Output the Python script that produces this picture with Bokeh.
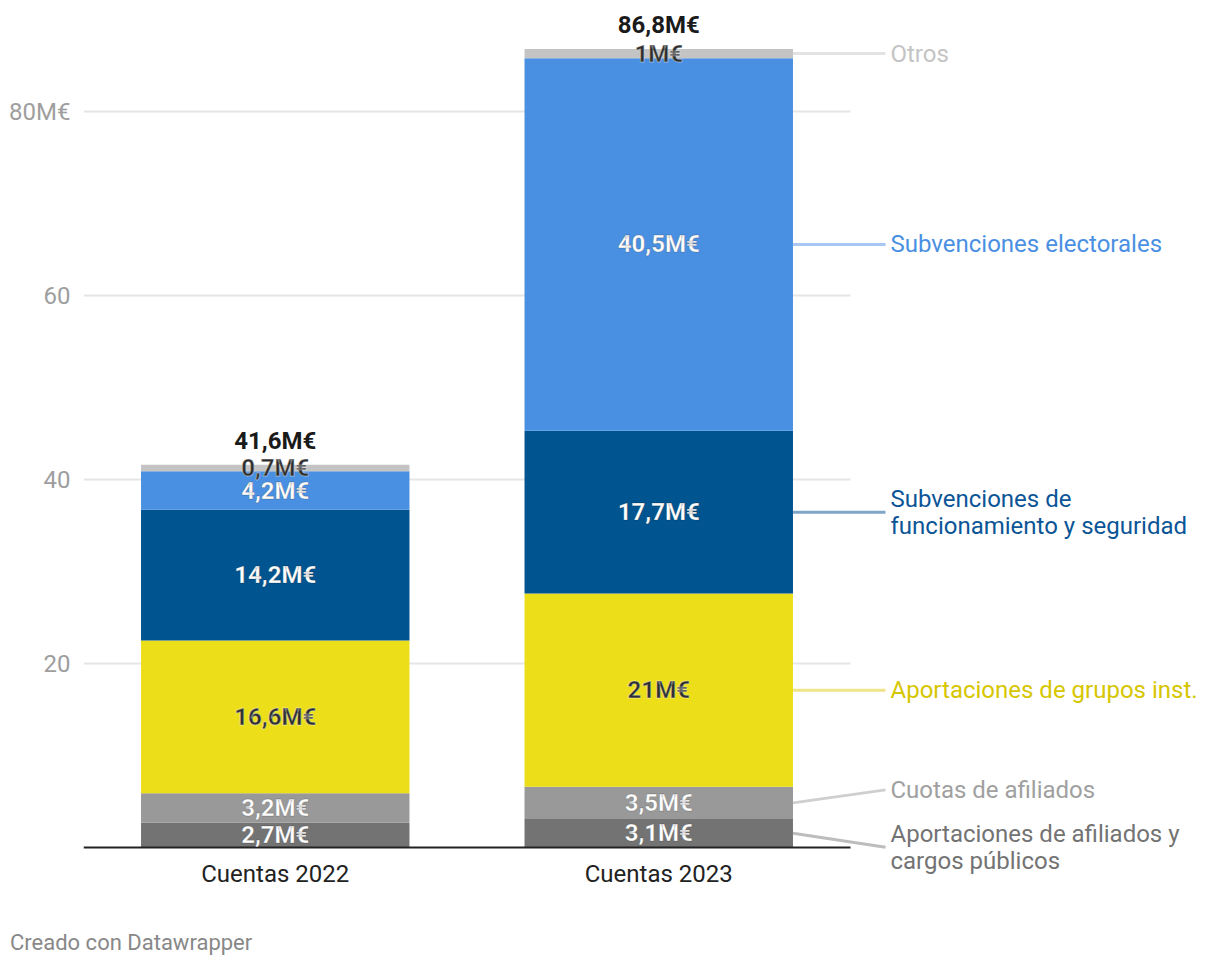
from bokeh.plotting import figure
from bokeh.layouts import column
from bokeh.models import Range1d, FixedTicker, Div
from bokeh.core.properties import value
from bokeh.embed import file_html
from bokeh.resources import INLINE

# ---- data ----
categories = ["Cuentas 2022", "Cuentas 2023"]
series = ["Aportaciones de afiliados y\ncargos públicos", "Cuotas de afiliados",
          "Aportaciones de grupos inst.", "Subvenciones de\nfuncionamiento y seguridad",
          "Subvenciones electorales", "Otros"]
values_2022 = [2.7, 3.2, 16.6, 14.2, 4.2, 0.7]
values_2023 = [3.1, 3.5, 21.0, 17.7, 40.5, 1.0]
totals = [41.6, 86.8]
y_ticks = [20, 40, 60, 80]
y_tick_labels = ["20", "40", "60", "80M€"]
footer_text = "Creado con Datawrapper"

# ---- style ----
bar_colors = ["#737373", "#999999", "#ecdf1a", "#00548f", "#4a90e2", "#c4c4c4"]
inside_text = ["white", "white", "#2d2d2d", "white", "white", "#2d2d2d"]
inside_halo = ["rgba(0,0,0,0.2)", "rgba(0,0,0,0.2)", "rgba(255,255,255,0.4)",
               "rgba(0,0,0,0.2)", "rgba(0,0,0,0.2)", "rgba(255,255,255,0.4)"]
legend_text = ["#737373", "#a0a0a0", "#d6c600", "#0b5597", "#4a90e2", "#c4c4c4"]
conn_colors = ["#bdbdbd", "#cfcfcf", "#eee58a", "#7fa6c8", "#a6c8f2", "#e3e3e3"]
label_offset_px = [-14, 13, 0, 0, 0, 0]  # upward shift of the right labels (px)
FONT = "Roboto"
FS = "24px"

PX_Y = 9.2      # px per unit on y
PX_X = 383.5    # px per unit on x
BAR_W = 0.70

W, H = 1212, 905
frame_left = 83
zero_px = 847          # canvas y of value 0
frame_bottom = 880     # canvas y of frame bottom
frame_w = W - frame_left
x_end = frame_w / PX_X
y_start = -(frame_bottom - zero_px) / PX_Y
y_end = zero_px / PX_Y

p = figure(width=W, height=H, output_backend="svg", toolbar_location=None,
           x_range=Range1d(0, x_end), y_range=Range1d(y_start, y_end),
           min_border_left=frame_left, min_border_right=0, min_border_top=0,
           min_border_bottom=H - frame_bottom)
p.outline_line_color = None
p.xgrid.visible = False
p.ygrid.visible = False
p.background_fill_color = "white"

xs = [0.5, 1.5]

# gridlines limited to chart area
p.segment(x0=[0] * len(y_ticks), x1=[2] * len(y_ticks), y0=y_ticks, y1=y_ticks,
          line_color="#e6e6e6", line_width=2)

# stacked bars
all_vals = [values_2022, values_2023]
for ci, vals in enumerate(all_vals):
    bottom = 0.0
    for si, v in enumerate(vals):
        p.vbar(x=[xs[ci]], bottom=[bottom], top=[bottom + v], width=BAR_W,
               fill_color=bar_colors[si], line_color=None)
        bottom += v

# baseline
p.segment(x0=[0], x1=[2], y0=[0], y1=[0], line_color="#222222", line_width=2)

# labels inside bars
for ci, vals in enumerate(all_vals):
    bottom = 0.0
    for si, v in enumerate(vals):
        txt = f"{v:g}".replace(".", ",") + "M€"
        p.text(x=[xs[ci]], y=[bottom + v / 2], text=[txt], text_align="center",
               text_baseline="middle", text_font=value(FONT), text_font_style="bold",
               text_font_size=FS, text_color=inside_text[si],
               text_outline_color=inside_halo[si])
        bottom += v

# totals
p.text(x=xs, y=totals, text=[f"{t:g}".replace(".", ",") + "M€" for t in totals],
       text_align="center", text_baseline="middle", y_offset=-24,
       text_font=value(FONT), text_font_style="bold", text_font_size=FS,
       text_color="#1a1a1a")

# right labels with connectors
bar_right = xs[1] + BAR_W / 2
conn_end = (885 - frame_left) / PX_X
lab_x = (890 - frame_left) / PX_X
bottom = 0.0
for si, v in enumerate(values_2023):
    mid = bottom + v / 2
    ly = mid + label_offset_px[si] / PX_Y
    p.segment(x0=[bar_right], x1=[conn_end], y0=[mid], y1=[ly],
              line_color=conn_colors[si], line_width=3)
    p.text(x=[lab_x], y=[ly], text=[series[si]], text_align="left",
           text_baseline="middle", text_font=value(FONT), text_font_size=FS,
           text_color=legend_text[si], text_line_height=0.97)
    bottom += v

# axes
p.yaxis.ticker = FixedTicker(ticks=y_ticks)
p.yaxis.major_label_overrides = {t: l for t, l in zip(y_ticks, y_tick_labels)}
p.yaxis.axis_line_color = None
p.yaxis.major_tick_line_color = None
p.yaxis.minor_tick_line_color = None
p.yaxis.major_tick_out = 0
p.yaxis.major_label_standoff = 13
p.yaxis.major_label_text_font = FONT
p.yaxis.major_label_text_font_size = FS
p.yaxis.major_label_text_color = "#9e9e9e"

p.xaxis.ticker = FixedTicker(ticks=xs)
p.xaxis.major_label_overrides = {x: c for x, c in zip(xs, categories)}
p.xaxis.axis_line_color = None
p.xaxis.major_tick_line_color = None
p.xaxis.minor_tick_line_color = None
p.xaxis.major_tick_out = 0
p.xaxis.major_tick_in = 0
p.xaxis.major_label_standoff = -(frame_bottom - zero_px) + 12
p.xaxis.major_label_text_font = FONT
p.xaxis.major_label_text_font_size = FS
p.xaxis.major_label_text_color = "#222222"

# footer
footer = Div(text=footer_text, width=W - 10, height=40, margin=(25, 0, 0, 10),
             styles={"font-family": "Roboto", "font-size": "22px", "color": "#888888",
                     "line-height": "26px"})

layout = column(p, footer, spacing=0)
open("out.html", "w").write(file_html(layout, INLINE))
